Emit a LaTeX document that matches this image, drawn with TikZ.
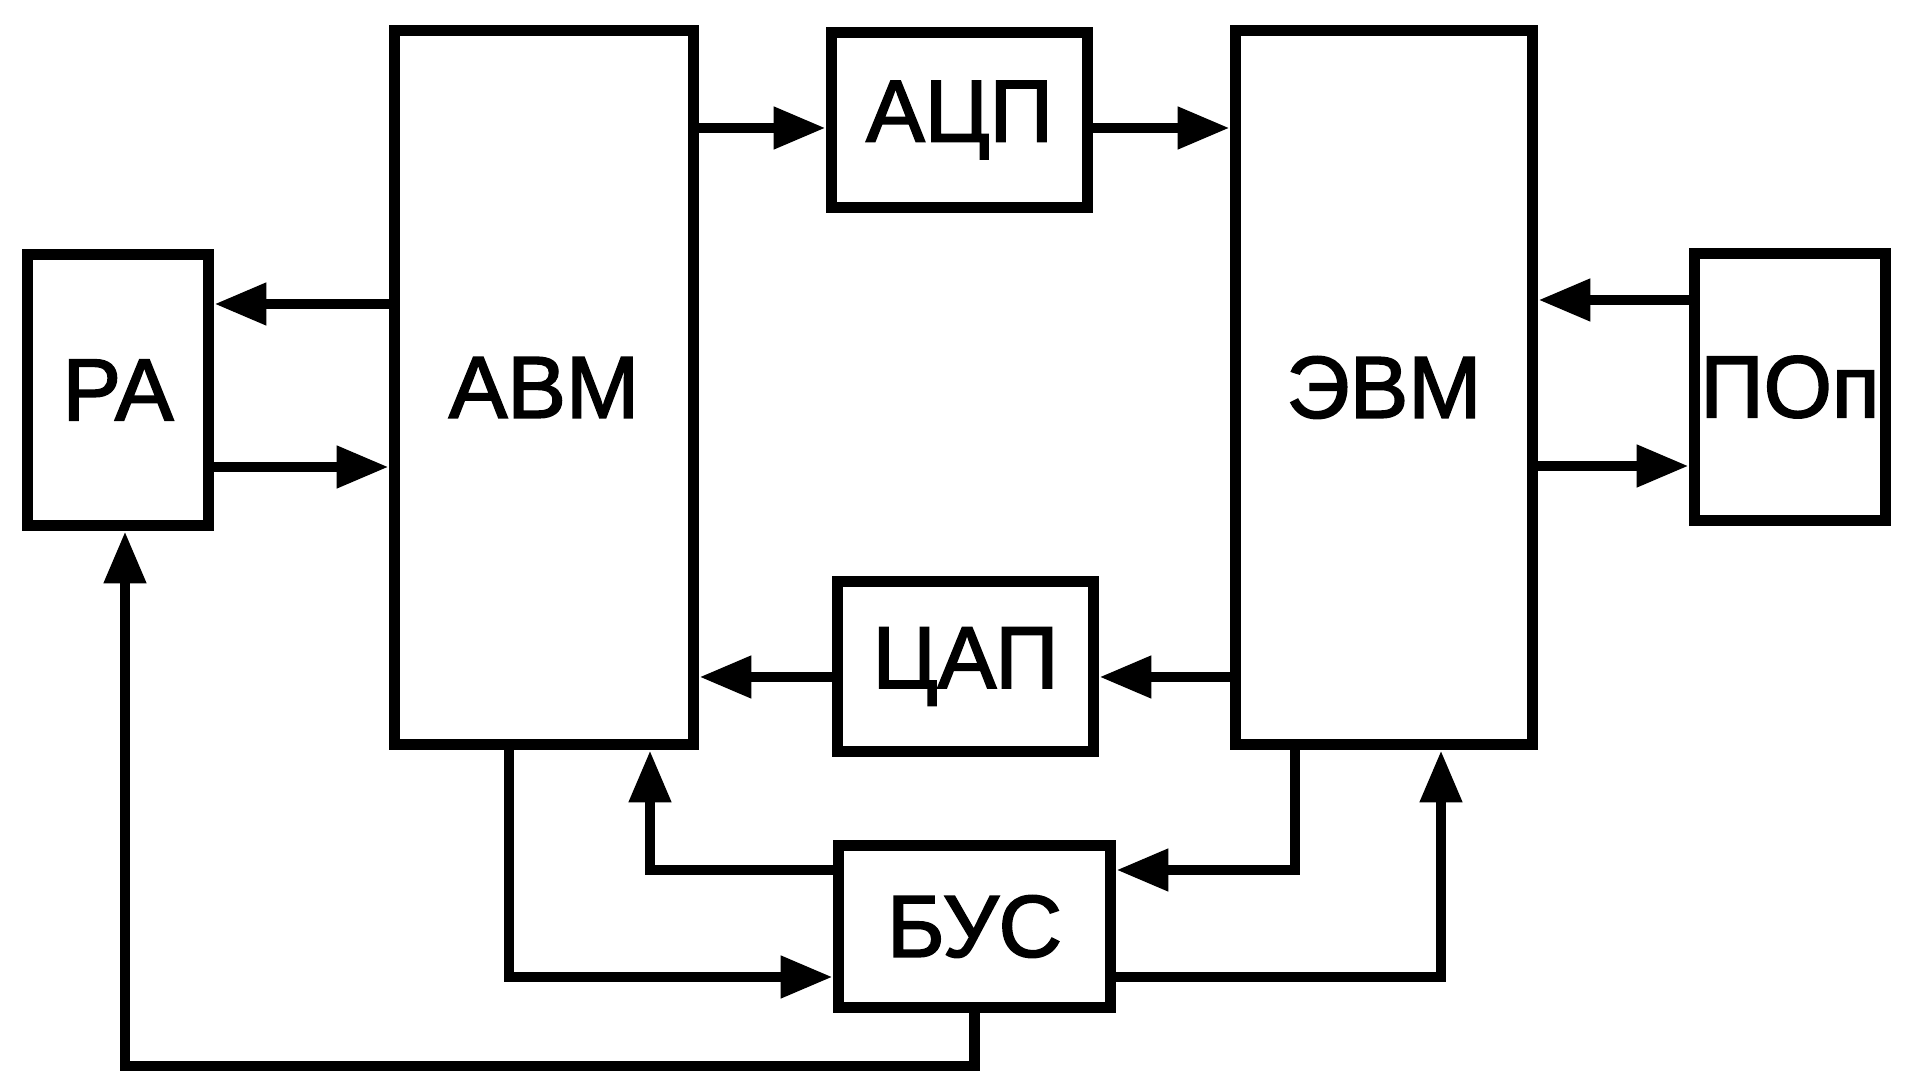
\documentclass[tikz,border=0pt]{standalone}
\usepackage{fontspec}
\setmainfont{Liberation Sans}
\newfontfamily\labelfont[FakeBold=2]{Liberation Sans}
\usetikzlibrary{arrows.meta,positioning}

\begin{document}
\begin{tikzpicture}[
  box/.style={rectangle, draw, line width=3.3pt, inner sep=0pt, font=\labelfont\fontsize{25}{26}\selectfont},
  arr/.style={-{Triangle[length=5.2mm, width=4mm]}, line width=3pt}
]
  \useasboundingbox (0,0) rectangle (19.05,10.74);

  \node[box, minimum width=1.81cm, minimum height=2.71cm] (ra) at (1.18,6.84) {Р\kern-0.07emА};
  \node[box, minimum width=2.99cm, minimum height=7.14cm] (abm) at (5.44,6.865) {АВМ};
  \node[box, minimum width=2.56cm, minimum height=1.75cm] (acp) at (9.595,9.54) {АЦП};
  \node[box, minimum width=2.97cm, minimum height=7.14cm] (evm) at (13.84,6.865) {ЭВМ};
  \node[box, minimum width=1.91cm, minimum height=2.67cm] (pop) at (17.90,6.87) {ПОп};
  \node[box, minimum width=2.56cm, minimum height=1.70cm] (cap) at (9.655,4.075) {ЦАП};
  \node[box, minimum width=2.72cm, minimum height=1.62cm] (bus) at (9.745,1.475) {БУС};
  \coordinate (loop) at (1.25,0.08);

  \draw[arr] (abm.east |- 0,9.46) -- (acp.west |- 0,9.46);
  \draw[arr] (acp.east |- 0,9.46) -- (evm.west |- 0,9.46);
  \draw[arr] (abm.west |- 0,7.70) -- (ra.east |- 0,7.70);
  \draw[arr] (ra.east |- 0,6.07) -- (abm.west |- 0,6.07);
  \draw[arr] (pop.west |- 0,7.74) -- (evm.east |- 0,7.74);
  \draw[arr] (evm.east |- 0,6.08) -- (pop.west |- 0,6.08);
  \draw[arr] (evm.west |- 0,3.97) -- (cap.east |- 0,3.97);
  \draw[arr] (cap.west |- 0,3.97) -- (abm.east |- 0,3.97);

  % control unit links
  \draw[arr] (abm.south -| 5.09,0) |- (bus.west |- 0,0.97);
  \draw[arr] (bus.west |- 0,2.04) -| (abm.south -| 6.50,0);
  \draw[arr] (evm.south -| 12.95,0) |- (bus.east |- 0,2.04);
  \draw[arr] (bus.east |- 0,0.97) -| (evm.south -| 14.41,0);
  \draw[arr] (bus.south) |- (loop) -- (ra.south -| loop);
\end{tikzpicture}
\end{document}
